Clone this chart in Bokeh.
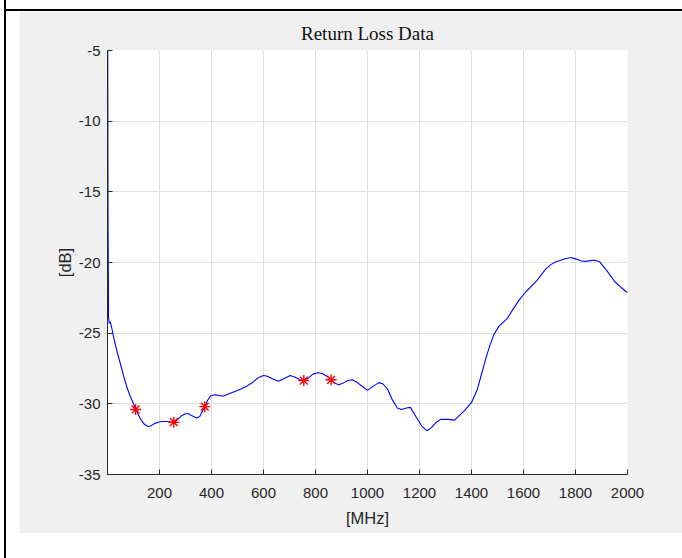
from bokeh.plotting import figure
from bokeh.models import FixedTicker, Range1d, Div, PrintfTickFormatter
from bokeh.layouts import row, column
from bokeh.embed import file_html
from bokeh.resources import INLINE

# ---- data ----
freq_mhz = [1, 2, 4, 7, 11, 16, 25, 37, 50, 63, 76, 88, 100, 110, 128, 142, 155, 168,
            180, 195, 210, 230, 245, 258, 270, 285, 300, 312, 325, 343, 355, 365, 374,
            385, 396, 413, 430, 446, 472, 500, 536, 560, 580, 600, 615, 632, 658, 680,
            703, 720, 740, 755, 774, 790, 810, 826, 845, 860, 875, 890, 909, 925, 941,
            958, 975, 1000, 1018, 1044, 1060, 1077, 1095, 1115, 1130, 1150, 1165, 1186,
            1210, 1228, 1245, 1265, 1282, 1310, 1335, 1355, 1375, 1400, 1422, 1440, 1455,
            1470, 1486, 1506, 1538, 1560, 1583, 1609, 1648, 1686, 1705, 1725, 1764, 1783,
            1803, 1820, 1835, 1855, 1873, 1893, 1919, 1951, 1977, 2000]
return_loss_db = [-5.0, -16.5, -23.9, -24.3, -24.2, -24.6, -25.4, -26.3, -27.2, -28.1, -28.9,
                  -29.5, -30.0, -30.45, -31.1, -31.45, -31.6, -31.55, -31.4, -31.3, -31.25,
                  -31.25, -31.3, -31.3, -31.1, -30.85, -30.7, -30.7, -30.85, -31.0, -30.9,
                  -30.5, -30.2, -29.75, -29.45, -29.36, -29.42, -29.45, -29.25, -29.05,
                  -28.75, -28.45, -28.15, -28.0, -28.05, -28.2, -28.4, -28.2, -28.0, -28.1,
                  -28.3, -28.35, -28.15, -27.9, -27.8, -27.85, -28.07, -28.3, -28.55, -28.65,
                  -28.5, -28.35, -28.3, -28.45, -28.7, -29.05, -28.8, -28.5, -28.6, -28.95,
                  -29.7, -30.3, -30.4, -30.3, -30.25, -30.9, -31.6, -31.9, -31.7, -31.3,
                  -31.1, -31.1, -31.15, -30.8, -30.45, -29.9, -29.0, -27.8, -26.8, -25.9,
                  -25.1, -24.5, -23.95, -23.3, -22.66, -22.07, -21.36, -20.45, -20.15, -19.95,
                  -19.72, -19.65, -19.76, -19.88, -19.93, -19.87, -19.84, -19.95, -20.54,
                  -21.36, -21.79, -22.14]
marker_freq_mhz = [108, 255, 374, 755, 860]
marker_db = [-30.4, -31.3, -30.2, -28.35, -28.3]
x_ticks = [200, 400, 600, 800, 1000, 1200, 1400, 1600, 1800, 2000]
y_ticks = [-35, -30, -25, -20, -15, -10, -5]

TXT = "#262626"

p = figure(width=663, height=522, output_backend="svg", toolbar_location=None,
           x_range=Range1d(0, 2000), y_range=Range1d(-35, -5),
           min_border_left=88, min_border_right=55, min_border_top=39, min_border_bottom=59,
           border_fill_color="#f0f0f0", background_fill_color="white",
           margin=(0, 0, 25, 13))
p.outline_line_color = None

p.title.text = "Return Loss Data"
p.title.align = "center"
p.title.text_font = "Liberation Serif"
p.title.text_font_size = "19px"
p.title.text_font_style = "normal"
p.title.text_color = "#111111"
p.title.standoff = 13

for ax, ticks, lab in ((p.xaxis[0], x_ticks, "[MHz]"), (p.yaxis[0], y_ticks, "[dB]")):
    ax.ticker = FixedTicker(ticks=ticks)
    ax.formatter = PrintfTickFormatter(format="%d")
    ax.axis_label = lab
    ax.axis_label_text_font = "Liberation Sans"
    ax.axis_label_text_font_size = "16.5px"
    ax.axis_label_text_font_style = "normal"
    ax.axis_label_text_color = TXT
    ax.major_label_text_font = "Liberation Sans"
    ax.major_label_text_font_size = "15px"
    ax.major_label_text_color = TXT
    ax.axis_line_color = TXT
    ax.major_tick_line_color = TXT
    ax.major_tick_in = 5
    ax.major_tick_out = 0
    ax.minor_tick_line_color = None
p.xaxis[0].major_label_standoff = 13
p.xaxis[0].axis_label_standoff = 8
p.yaxis[0].major_label_standoff = 7
p.yaxis[0].axis_label_standoff = 2

for g, ticks in ((p.xgrid[0], x_ticks), (p.ygrid[0], y_ticks)):
    g.ticker = FixedTicker(ticks=ticks)
    g.grid_line_color = "#dfdfdf"
    g.grid_line_width = 1

p.line(freq_mhz, return_loss_db, line_color="#0000ff", line_width=1.1)
p.scatter(marker_freq_mhz, marker_db, marker="asterisk", size=11,
          line_color="#ff0000", line_width=1.4)

# page decoration: black rules of the surrounding table cell
v_rule = Div(text="", width=2, height=558, margin=(0, 0, 0, 4),
             styles={"background-color": "black"})
top_gap = Div(text="", width=676, height=9, margin=0)
h_rule = Div(text="", width=676, height=2, margin=0,
             styles={"background-image": "linear-gradient(to right, black, black)",
                     "background-color": "black",
                     "box-shadow": "inset 13px 1px 0 0 black"})

layout = row(v_rule, column(top_gap, h_rule, p, spacing=0), spacing=0)

open("out.html", "w").write(file_html(layout, INLINE))
